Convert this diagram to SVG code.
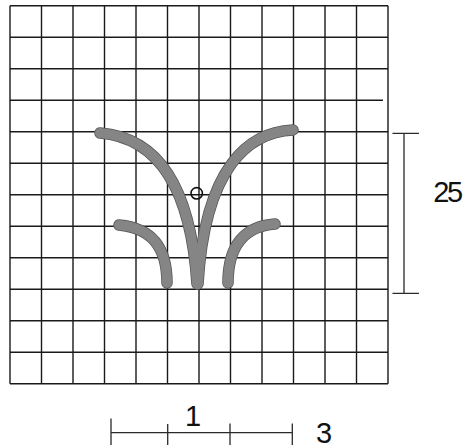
<svg xmlns="http://www.w3.org/2000/svg" width="466" height="448" viewBox="0 0 466 448">
<style>
.g{stroke:#1a1a1a;stroke-width:1.4;fill:none}
.d{stroke:#2a2a2a;stroke-width:1.3;fill:none}
.c{stroke:#858585;stroke-width:10;fill:none;stroke-linecap:round}
.ce{stroke:#555;stroke-width:11.5;fill:none;stroke-linecap:round}
.t{font-family:"Liberation Sans",Arial,sans-serif;font-size:29px;fill:#111;text-anchor:middle}
</style>
<rect width="466" height="448" fill="#fff"/>
<g id="grid" class="g">
<path d="M10,5.7V383.7M41.5,5.7V383.7M73,5.7V383.7M104.5,5.7V383.7M136,5.7V383.7M167.5,5.7V383.7M199,5.7V383.7M230.5,5.7V383.7M262,5.7V383.7M293.5,5.7V383.7M325,5.7V383.7M356.5,5.7V383.7M388,5.7V383.7"/>
<path d="M10,5.7H388M10,37.2H388M10,68.7H388M10,100.2H383M10,131.7H388M10,163.2H388M10,194.7H388M10,226.2H388M10,257.7H388M10,289.2H388M10,320.7H388M10,352.2H388M10,383.7H388"/>
</g>
<g id="motif">
<g id="edges">
<path class="ce" d="M100,133 C150,137 190,175 197,284"/>
<path class="ce" d="M293,130 C250,132 205,165 198,284"/>
<path class="ce" d="M119,225 C150,228 167,245 167,283"/>
<path class="ce" d="M275,224 C245,226 228,245 228,283"/>
</g>
<path class="c" d="M100,133 C150,137 190,175 197,284"/>
<path class="c" d="M293,130 C250,132 205,165 198,284"/>
<path class="c" d="M119,225 C150,228 167,245 167,283"/>
<path class="c" d="M275,224 C245,226 228,245 228,283"/>
<circle cx="196.7" cy="193.3" r="5.7" fill="none" stroke="#111" stroke-width="1.6"/>
</g>
<g id="dim-right" class="d">
<path d="M392.5,133.3H419M404,133.3V293.3M392.5,293.3H419"/>
</g>
<text class="t" x="447" y="201.7" letter-spacing="-2.5">25</text>
<g id="dim-bottom" class="d">
<path d="M111,432.7H292.3M111,418.5V445M167.7,424V445M230,423.5V445M292.3,423.5V445"/>
</g>
<text class="t" x="193" y="425.7">1</text>
<text class="t" x="324" y="443.3">3</text>
</svg>
